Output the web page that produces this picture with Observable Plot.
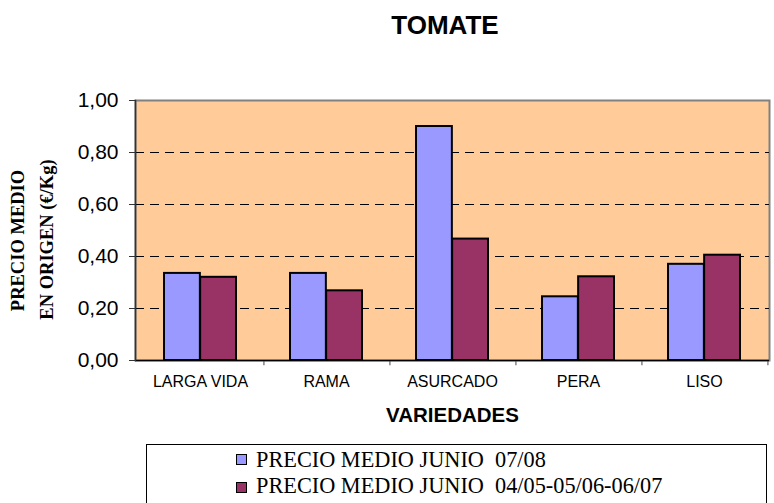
<!DOCTYPE html>
<html><head><meta charset="utf-8">
<script src="https://cdn.jsdelivr.net/npm/d3@7"></script>
<script src="https://cdn.jsdelivr.net/npm/@observablehq/plot@0.6"></script>
<style>
body{margin:0;background:#fff;}
#wrap{position:relative;width:774px;height:503px;overflow:hidden;}
#legend{position:absolute;left:146px;top:444px;width:621px;height:80px;border:1px solid #000;box-sizing:border-box;background:#fff;font-family:"Liberation Serif","Times New Roman",serif;font-size:22.3px;color:#000;}
.sw{position:absolute;left:89px;width:11px;height:11px;border:1.5px solid #000;box-sizing:border-box;}
.lt{position:absolute;left:109px;white-space:pre;line-height:20px;}
</style></head>
<body>
<div id="wrap">
  <div id="chart"></div>
  <div id="legend"></div>
</div>
<script>
const cats = ["LARGA VIDA", "RAMA", "ASURCADO", "PERA", "LISO"];
const precio0708 = [0.335, 0.335, 0.90, 0.245, 0.37];
const precioMedio = [0.32, 0.268, 0.467, 0.322, 0.405];
const yTicks = [0, 0.2, 0.4, 0.6, 0.8, 1.0];
const yTickLabels = ["0,00", "0,20", "0,40", "0,60", "0,80", "1,00"];
const seriesNames = ["PRECIO MEDIO JUNIO  07/08", "PRECIO MEDIO JUNIO  04/05-05/06-06/07"];
const seriesColors = ["#9999FF", "#993366"];

const data = cats.map((c, i) => ({cat: c, a: precio0708[i], b: precioMedio[i]}));

const W = 774, H = 503, mL = 135, mR = 5, mT = 100, mB = 143;
const pInner = 0.43, pOuter = pInner / 2;
const step = (W - mL - mR) / cats.length;
const bw = step * (1 - pInner);

const chart = Plot.plot({
  width: W, height: H,
  marginLeft: mL, marginRight: mR, marginTop: mT, marginBottom: mB,
  style: {fontFamily: "Liberation Sans, Arial, sans-serif", background: "transparent", color: "#000"},
  x: {type: "band", domain: cats, paddingInner: pInner, paddingOuter: pOuter, axis: null},
  y: {domain: [0, 1], axis: null},
  marks: [
    Plot.frame({fill: "#FFCC99", stroke: "#808080", strokeWidth: 2}),
    Plot.gridY(yTicks.filter(d => d > 0 && d < 1), {stroke: "#000", strokeOpacity: 1, strokeWidth: 1, strokeDasharray: "9,6"}),
    Plot.barY(data, {x: "cat", y: "a", fill: seriesColors[0], stroke: "#000", strokeWidth: 2, insetRight: bw / 2}),
    Plot.barY(data, {x: "cat", y: "b", fill: seriesColors[1], stroke: "#000", strokeWidth: 2, insetLeft: bw / 2}),
    Plot.ruleX(cats, {x: d => d, y1: 0, y2: -0.02, dx: step / 2, stroke: "#808080", strokeWidth: 1.5}),
    Plot.ruleY([0], {stroke: "#000", strokeWidth: 1.5}),
    Plot.frame({anchor: "left", stroke: "#333", strokeWidth: 1.5}),
    Plot.axisY(yTicks, {tickSize: 6, tickPadding: 11, fontSize: 21, stroke: "#333", fill: "#000",
      tickFormat: d => yTickLabels[yTicks.indexOf(d)]}),
    Plot.axisX({tickSize: 0, tickPadding: 15, fontSize: 16, fill: "#000"}),
    Plot.text(["TOMATE"], {frameAnchor: "top", dx: -7.5, dy: -75, fontSize: 26, fontWeight: "bold", textAnchor: "middle", lineAnchor: "middle", fill: "#000"}),
    Plot.text(["VARIEDADES"], {frameAnchor: "bottom", dy: 55, fontSize: 20.5, fontWeight: "bold", textAnchor: "middle", lineAnchor: "middle", fill: "#000"}),
    Plot.text(["PRECIO MEDIO"], {frameAnchor: "left", dx: -117, dy: 10, rotate: -90, fontSize: 18.5, fontWeight: "bold", fontFamily: "Liberation Serif, Times New Roman, serif", textAnchor: "middle", lineAnchor: "middle", fill: "#000"}),
    Plot.text(["EN ORIGEN (€/Kg)"], {frameAnchor: "left", dx: -88, dy: 9, rotate: -90, fontSize: 18.5, fontWeight: "bold", fontFamily: "Liberation Serif, Times New Roman, serif", textAnchor: "middle", lineAnchor: "middle", fill: "#000"})
  ]
});
document.getElementById("chart").appendChild(chart);

const legend = document.getElementById("legend");
const swTops = [9, 36.5], txtTops = [4.8, 30.8];
seriesNames.forEach((name, i) => {
  const sw = document.createElement("div");
  sw.className = "sw"; sw.style.top = swTops[i] + "px"; sw.style.background = seriesColors[i];
  legend.appendChild(sw);
  const t = document.createElement("div");
  t.className = "lt"; t.style.top = txtTops[i] + "px"; t.textContent = name;
  legend.appendChild(t);
});
</script>
</body></html>
